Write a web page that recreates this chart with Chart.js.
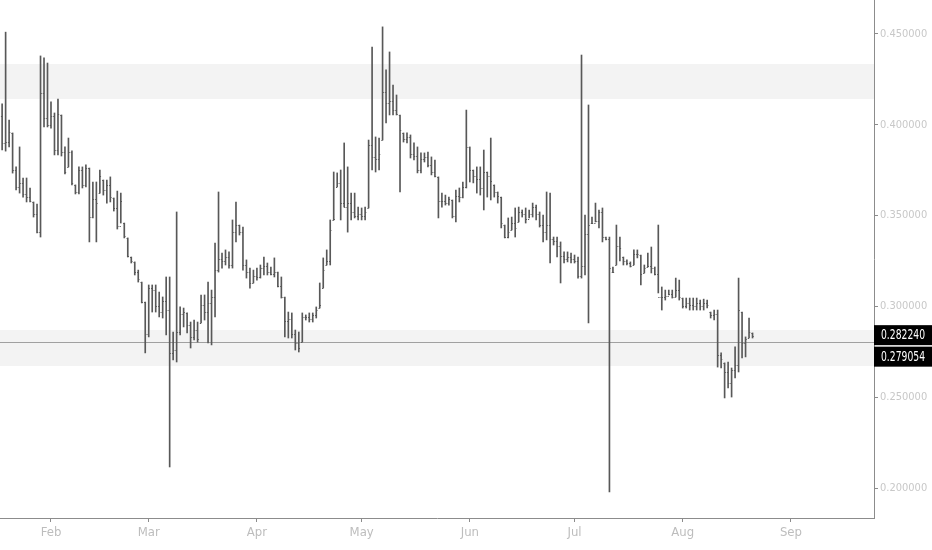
<!DOCTYPE html>
<html>
<head>
<meta charset="utf-8">
<script src="https://cdn.jsdelivr.net/npm/chart.js@4.4.0/dist/chart.umd.min.js"></script>
<style>
  html, body { margin: 0; padding: 0; background: #fff; }
  #wrap { position: relative; width: 932px; height: 550px; }
</style>
</head>
<body>
<div id="wrap"><canvas id="ohlcChart"></canvas></div>
<script>
// Daily bars, first bar = Jan 18 (day of year, Jan 1 = 0)
const firstDay = 17;

const opens = [
  .405,.390,.3905,.3955,.375,.366,.368,.362,.360,.3575,
  .351,.341,.4175,.4037,.400,.405,.386,.4054,.385,.3768,
  .385,.3669,.363,.375,.367,.376,.349,.359,.3624,.3696,
  .364,.367,.3597,.354,.344,.3459,.3377,.3272,.3245,.319,
  .3134,.3024,.285,.310,.309,.300,.297,.303,.298,.2745,
  .276,.286,.296,.2964,.290,.283,.287,.2909,.301,.297,
  .302,.305,.320,.326,.325,.327,.323,.341,.3448,.341,
  .323,.319,.313,.317,.316,.321,.322,.319,.318,.3189,
  .311,.305,.292,.293,.285,.280,.2804,.294,.294,.293,
  .295,.2991,.3101,.3228,.325,.3476,.3658,.368,.357,.355,
  .357,.352,.350,.351,.350,.3542,.389,.382,.381,.3916,
  .418,.412,.413,.408,.4054,.3955,.392,.393,.384,.383,
  .375,.381,.382,.378,.374,.3713,.358,.358,.357,.3586,
  .350,.361,.360,.366,.3878,.3751,.372,.370,.365,.374,
  .372,.3669,.363,.3602,.3448,.338,.3421,.346,.3465,.352,
  .351,.348,.351,.355,.351,.345,.341,.345,.337,.336,
  .333,.328,.326,.327,.326,.325,.317,.322,.340,.3459,
  .346,.347,.352,.338,.337,.3189,.3228,.333,.3272,.325,
  .324,.3228,.329,.3283,.3184,.3217,.322,.321,.318,.305,
  .305,.306,.307,.305,.309,.3046,.300,.302,.301,.300,
  .302,.300,.302,.2969,.295,.296,.273,.2689,.264,.258,
  .265,.268,.2969,.280,.2826,.2854
];

const highs = [
  .4115,.451,.4026,.3955,.3768,.3878,.3707,.3707,.3652,.3575,
  .3564,.4379,.4368,.434,.4126,.4065,.4142,.4054,.3878,.3927,
  .3856,.3669,.3768,.3768,.3779,.3762,.3685,.3685,.3751,.3696,
  .3696,.3713,.3597,.3635,.3624,.3459,.3377,.3272,.3245,.320,
  .3134,.3024,.3118,.3118,.3118,.3079,.3052,.3162,.3162,.2859,
  .352,.2997,.2991,.2964,.2914,.2925,.2914,.3063,.3063,.3134,
  .309,.3349,.363,.3294,.3311,.33,.3476,.3575,.3448,.3437,
  .3256,.3211,.320,.3211,.3228,.3272,.3239,.3217,.3267,.3189,
  .3162,.3052,.2969,.2964,.287,.2859,.2964,.2953,.2964,.2964,
  .2997,.3129,.3267,.3311,.3476,.374,.3735,.3751,.39,.3768,
  .3624,.3624,.3547,.3542,.3547,.3916,.4428,.3933,.3927,.4539,
  .4302,.4401,.4219,.4164,.4054,.3955,.3955,.3944,.39,.3878,
  .3845,.3845,.385,.3823,.3806,.3713,.3624,.3613,.3602,.3586,
  .3641,.3652,.3685,.4081,.3878,.3751,.3768,.3768,.3861,.374,
  .3927,.3669,.363,.3602,.3448,.3487,.3492,.3542,.3547,.3531,
  .3542,.3531,.3569,.3558,.352,.3503,.363,.3624,.3382,.3382,
  .3355,.33,.33,.3294,.3283,.3272,.4384,.3503,.4109,.3492,
  .3569,.3531,.3542,.3382,.3382,.3217,.3448,.3382,.3272,.3256,
  .3245,.3311,.3311,.3283,.3228,.3294,.3327,.3217,.3448,.3107,
  .309,.309,.309,.3156,.3145,.3046,.3046,.3046,.3046,.3046,
  .3035,.304,.3035,.2969,.298,.298,.2744,.2689,.2694,.2661,
  .2777,.3156,.2969,.2832,.2936,.2854
];

const lows = [
  .3861,.3855,.3878,.3734,.3641,.3624,.3602,.3575,.3575,.3492,
  .3404,.3382,.3988,.3988,.3982,.3834,.3834,.3828,.3729,.3768,
  .3669,.3619,.3619,.3652,.3658,.3355,.3487,.3355,.3624,.3613,
  .3569,.3575,.3525,.3426,.3459,.3377,.3272,.3239,.3173,.3134,
  .3019,.2744,.2832,.2969,.2969,.2942,.2936,.2843,.2116,.2705,
  .2694,.2843,.2887,.2854,.2771,.2815,.2804,.2909,.2925,.2799,
  .2788,.2942,.3189,.3211,.3228,.3211,.3211,.3355,.3393,.320,
  .3156,.3101,.3129,.3145,.3156,.3173,.3173,.3173,.3162,.3107,
  .3046,.2832,.2826,.2826,.276,.2749,.2804,.2925,.2914,.2914,
  .2936,.2991,.3101,.3228,.3228,.3476,.3658,.3476,.3547,.3409,
  .3476,.3487,.3476,.3476,.3476,.3542,.3751,.374,.3751,.3916,
  .401,.4054,.4054,.4054,.363,.3905,.39,.3817,.3806,.3735,
  .3735,.3795,.3768,.3724,.3713,.3487,.3547,.3558,.3558,.3487,
  .3465,.3575,.3597,.3652,.3685,.368,.3624,.3613,.3531,.3602,
  .3586,.3602,.3569,.3432,.3377,.3377,.3421,.3382,.3465,.3492,
  .3459,.3487,.3492,.3476,.3437,.3355,.3366,.3239,.3338,.3272,
  .3129,.3239,.3245,.3239,.3239,.3156,.3156,.3173,.2909,.3459,
  .3465,.3432,.3355,.3366,.1978,.3189,.3228,.325,.3228,.3228,
  .3217,.3228,.3267,.3118,.3184,.3217,.3184,.3173,.3074,.298,
  .3035,.3063,.3046,.3052,.3035,.2991,.2991,.298,.298,.298,
  .298,.298,.2991,.2936,.2925,.2666,.2661,.2496,.2551,.2501,
  .2606,.2639,.2716,.2722,.2826,.2826
];

const closes = [
  .390,.3905,.396,.375,.366,.368,.362,.360,.358,.351,
  .341,.4175,.4037,.400,.405,.386,.406,.385,.374,.385,
  .368,.363,.375,.367,.376,.349,.359,.357,.372,.364,
  .367,.360,.354,.344,.358,.339,.328,.325,.319,.315,
  .3024,.285,.310,.309,.300,.297,.303,.298,.2745,.276,
  .286,.296,.297,.290,.283,.287,.282,.301,.297,.302,
  .305,.320,.326,.325,.327,.323,.341,.345,.341,.323,
  .319,.313,.317,.316,.321,.322,.319,.318,.319,.311,
  .305,.292,.293,.285,.280,.277,.294,.294,.293,.295,
  .298,.301,.320,.325,.342,.348,.368,.357,.355,.357,
  .352,.350,.351,.350,.352,.389,.382,.381,.384,.418,
  .412,.413,.408,.406,.397,.392,.393,.384,.383,.375,
  .381,.382,.378,.374,.372,.358,.358,.357,.359,.350,
  .361,.360,.366,.388,.375,.372,.370,.365,.374,.372,
  .369,.363,.361,.346,.338,.341,.346,.343,.352,.351,
  .348,.351,.355,.351,.345,.341,.345,.337,.336,.333,
  .328,.326,.327,.326,.325,.317,.322,.340,.345,.346,
  .347,.352,.338,.337,.321,.319,.333,.332,.325,.324,
  .322,.329,.329,.318,.321,.322,.321,.318,.305,.305,
  .306,.307,.305,.309,.305,.300,.302,.301,.300,.302,
  .300,.302,.301,.295,.296,.273,.271,.264,.258,.265,
  .268,.298,.280,.282,.286,.2835
];

const days = opens.map((_, i) => firstDay + i);

const monthLabels = ['Feb', 'Mar', 'Apr', 'May', 'Jun', 'Jul', 'Aug', 'Sep'];
const monthDays = [31, 59, 90, 120, 151, 181, 212, 243];
const priceTicks = [0.20, 0.25, 0.30, 0.35, 0.40, 0.45];

// shaded zones [bottom, top] and the last price line
const zones = [[0.4142, 0.4335], [0.2672, 0.2870]];
const lastPrice = 0.2804;
const priceTags = ['0.282240', '0.279054'];
const tagAnchor = 0.28224;

const barColor = '#585858';
const narrowFont = "'Liberation Sans Narrow', 'DejaVu Sans Condensed', 'Liberation Sans', sans-serif";

// grey zones + last price line under the bars
const zonePlugin = {
    id: 'zones',
    beforeDatasetsDraw(chart) {
        const {ctx, chartArea, scales: {y}} = chart;
        ctx.save();
        ctx.fillStyle = '#f3f3f3';
        zones.forEach(([lo, hi]) => {
            const top = y.getPixelForValue(hi);
            const bottom = y.getPixelForValue(lo);
            ctx.fillRect(chartArea.left, top, chartArea.right - chartArea.left, bottom - top);
        });
        const ly = Math.round(y.getPixelForValue(lastPrice)) + 0.5;
        ctx.strokeStyle = '#a0a0a0';
        ctx.lineWidth = 1;
        ctx.beginPath();
        ctx.moveTo(chartArea.left, ly);
        ctx.lineTo(chartArea.right, ly);
        ctx.stroke();
        ctx.restore();
    }
};

// open (left) and close (right) ticks of each bar
const ohlcTicks = {
    id: 'ohlcTicks',
    afterDatasetsDraw(chart) {
        const {ctx, scales: {x, y}} = chart;
        ctx.save();
        ctx.strokeStyle = barColor;
        ctx.lineWidth = 1;
        ctx.beginPath();
        days.forEach((d, i) => {
            const px = x.getPixelForValue(d);
            const yo = Math.round(y.getPixelForValue(opens[i])) + 0.5;
            const yc = Math.round(y.getPixelForValue(closes[i])) + 0.5;
            ctx.moveTo(px - 1.2, yo);
            ctx.lineTo(px, yo);
            ctx.moveTo(px, yc);
            ctx.lineTo(px + 1.2, yc);
        });
        ctx.stroke();
        ctx.restore();
    }
};

// black price tags on the right axis
const tagPlugin = {
    id: 'priceTags',
    afterDraw(chart) {
        const {ctx, chartArea, scales: {y}} = chart;
        const left = chartArea.right;
        const w = chart.width - left;
        let top = y.getPixelForValue(tagAnchor) - 13.5;
        ctx.save();
        priceTags.forEach(label => {
            ctx.fillStyle = '#000';
            ctx.fillRect(left, top, w, 20);
            ctx.fillStyle = '#fff';
            ctx.font = '14px ' + narrowFont;
            ctx.textBaseline = 'middle';
            const tw = ctx.measureText(label).width;
            const sx = Math.min(1, 44 / tw);
            ctx.save();
            ctx.translate(left + 7, top + 10.5);
            ctx.scale(sx, 1);
            ctx.fillText(label, 0, 0);
            ctx.restore();
            top += 21.5;
        });
        ctx.restore();
    }
};

const ctx = document.getElementById('ohlcChart').getContext('2d');
const ohlcChart = new Chart(ctx, {
    type: 'bar',
    data: {
        datasets: [{
            data: days.map((d, i) => ({x: d, y: [lows[i], highs[i]]})),
            backgroundColor: barColor,
            borderWidth: 0,
            barThickness: 1
        }]
    },
    options: {
        responsive: true,
        maintainAspectRatio: false,
        animation: false,
        layout: {
            padding: 0
        },
        plugins: {
            legend: {
                display: false
            },
            tooltip: {
                enabled: false
            }
        },
        scales: {
            x: {
                type: 'linear',
                min: 16.39,
                max: 266.8,
                offset: false,
                grid: {
                    offset: false,
                    drawOnChartArea: false,
                    drawTicks: true,
                    tickLength: 4,
                    color: '#8c8c8c'
                },
                border: {
                    display: true,
                    color: '#8c8c8c'
                },
                ticks: {
                    autoSkip: false,
                    maxRotation: 0,
                    padding: 3,
                    color: '#bdbdbd',
                    font: {size: 13, family: narrowFont},
                    callback: v => {
                        const k = monthDays.indexOf(v);
                        return k >= 0 ? monthLabels[k] : '';
                    }
                },
                afterBuildTicks: scale => {
                    scale.ticks = monthDays.map(v => ({value: v}));
                },
                afterFit: scale => {
                    scale.height = 32;
                    scale.paddingLeft = 0;
                    scale.paddingRight = 0;
                }
            },
            y: {
                type: 'linear',
                position: 'right',
                min: 0.1835,
                max: 0.4687,
                beginAtZero: false,
                grid: {
                    drawOnChartArea: false,
                    drawTicks: true,
                    tickLength: 4,
                    color: '#8c8c8c'
                },
                border: {
                    display: true,
                    color: '#8c8c8c'
                },
                ticks: {
                    padding: 2,
                    color: '#c8c8c8',
                    font: {size: 11, family: narrowFont},
                    callback: v => v.toFixed(6)
                },
                afterBuildTicks: scale => {
                    scale.ticks = priceTicks.map(v => ({value: v}));
                },
                afterFit: scale => {
                    scale.width = 58;
                    scale.paddingTop = 0;
                    scale.paddingBottom = 0;
                }
            }
        }
    },
    plugins: [zonePlugin, ohlcTicks, tagPlugin]
});
</script>
</body>
</html>
